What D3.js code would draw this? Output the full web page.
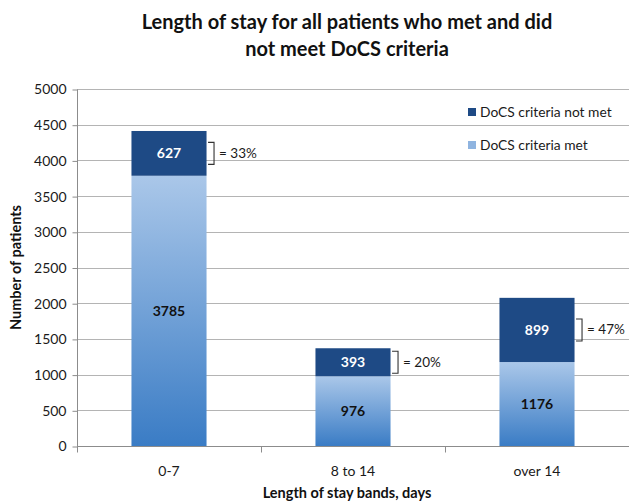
<!DOCTYPE html>
<html>
<head>
<meta charset="utf-8">
<script src="https://cdn.jsdelivr.net/npm/d3@7"></script>
<style>
  body { margin: 0; background: #fff; }
  svg { display: block; font-family: Lato, "Open Sans", sans-serif; }
</style>
</head>
<body>
<div id="chart"></div>
<script>
// Stacked bars: length of stay by band, DoCS criteria met / not met
(function () {
  "use strict";

  // Data
  const categories = ["0-7", "8 to 14", "over 14"];
  const metValues = [3785, 976, 1176];
  const notMetValues = [627, 393, 899];
  const percentLabels = ["= 33%", "= 20%", "= 47%"];
  const yTicks = [0, 500, 1000, 1500, 2000, 2500, 3000, 3500, 4000, 4500, 5000];
  const seriesNames = ["DoCS criteria not met", "DoCS criteria met"];

  const width = 629;
  const height = 501;
  const margin = { top: 89, right: 0, bottom: 52, left: 77 };

  const svg = d3
    .select("#chart")
    .append("svg")
    .attr("width", width)
    .attr("height", height);

  // Gradient for the "met" part of each bar
  const defs = svg.append("defs");
  const grad = defs
    .append("linearGradient")
    .attr("id", "metGrad")
    .attr("x1", 0).attr("y1", 0)
    .attr("x2", 0).attr("y2", 1);
  grad.append("stop").attr("offset", "0%").attr("stop-color", "#aac7e9");
  grad.append("stop").attr("offset", "100%").attr("stop-color", "#3a7cc5");

  const x = d3
    .scaleBand()
    .domain(categories)
    .range([margin.left, width - margin.right])
    .paddingInner(0.592)
    .paddingOuter(0.296);

  const y = d3
    .scaleLinear()
    .domain([0, 5000])
    .range([height - margin.bottom - 3, margin.top]);

  // Grid lines
  svg
    .append("g")
    .selectAll("line")
    .data(yTicks.filter((d) => d > 0))
    .join("line")
    .attr("x1", margin.left)
    .attr("x2", width)
    .attr("y1", (d) => Math.round(y(d)) + 0.5)
    .attr("y2", (d) => Math.round(y(d)) + 0.5)
    .attr("stroke", "#b4b4b4")
    .attr("stroke-width", 1.2);

  // Y axis
  const yAxis = svg
    .append("g")
    .attr("transform", `translate(${margin.left + 0.5},0.5)`)
    .call(d3.axisLeft(y).tickValues(yTicks).tickFormat(d3.format("d")).tickSize(5).tickPadding(6))
    .call((g) => g.select(".domain").attr("stroke", "#8c8c8c").attr("d", `M-0,${y(5000)}V${y(0)}`));
  yAxis.selectAll(".tick line").attr("stroke", "#8c8c8c");
  yAxis
    .selectAll(".tick text")
    .attr("font-family", "Lato, sans-serif")
    .attr("font-size", 14)
    .attr("fill", "#1a1a1a");

  // Bars: met (bottom) and not met (top)
  const bars = svg.append("g");
  bars
    .selectAll("rect.met")
    .data(categories)
    .join("rect")
    .attr("class", "met")
    .attr("x", (d) => x(d))
    .attr("width", x.bandwidth())
    .attr("y", (d, i) => y(metValues[i]))
    .attr("height", (d, i) => y(0) - y(metValues[i]))
    .attr("fill", "url(#metGrad)");

  bars
    .selectAll("rect.notmet")
    .data(categories)
    .join("rect")
    .attr("class", "notmet")
    .attr("x", (d) => x(d))
    .attr("width", x.bandwidth())
    .attr("y", (d, i) => y(metValues[i] + notMetValues[i]))
    .attr("height", (d, i) => y(metValues[i]) - y(metValues[i] + notMetValues[i]))
    .attr("fill", "#1e4a85");

  // X axis line and ticks
  const baseY = Math.round(y(0)) + 0.5;
  svg
    .append("line")
    .attr("x1", margin.left)
    .attr("x2", width)
    .attr("y1", baseY)
    .attr("y2", baseY)
    .attr("stroke", "#8c8c8c")
    .attr("stroke-width", 1.2);

  const bounds = [margin.left].concat(categories.map((d) => x(d) + x.bandwidth() + x.step() * x.paddingInner() / 2));
  svg
    .append("g")
    .selectAll("line")
    .data(bounds)
    .join("line")
    .attr("x1", (d) => Math.round(d) + 0.5)
    .attr("x2", (d) => Math.round(d) + 0.5)
    .attr("y1", baseY)
    .attr("y2", baseY + 6)
    .attr("stroke", "#8c8c8c");

  svg
    .append("g")
    .selectAll("text")
    .data(categories)
    .join("text")
    .attr("x", (d) => x(d) + x.bandwidth() / 2)
    .attr("y", 476)
    .attr("text-anchor", "middle")
    .attr("font-size", 14)
    .attr("fill", "#1a1a1a")
    .text((d) => d);

  // Value labels
  const labels = svg.append("g").attr("font-weight", "bold").attr("font-size", 14).attr("text-anchor", "middle");
  labels
    .selectAll("text.met")
    .data(categories)
    .join("text")
    .attr("x", (d) => x(d) + x.bandwidth() / 2)
    .attr("y", (d, i) => (y(0) + y(metValues[i])) / 2 + 5)
    .attr("fill", "#111")
    .text((d, i) => metValues[i]);
  labels
    .selectAll("text.notmet")
    .data(categories)
    .join("text")
    .attr("x", (d) => x(d) + x.bandwidth() / 2)
    .attr("y", (d, i) => (y(metValues[i]) + y(metValues[i] + notMetValues[i])) / 2 + 5)
    .attr("fill", "#fff")
    .text((d, i) => notMetValues[i]);

  // Brackets with percentages
  const brackets = svg.append("g");
  categories.forEach((c, i) => {
    const yc = (y(metValues[i]) + y(metValues[i] + notMetValues[i])) / 2;
    const bx = x(c) + x.bandwidth() + 7.5;
    brackets
      .append("path")
      .attr("d", `M${bx - 6},${yc - 11}H${bx}V${yc + 11}H${bx - 6}`)
      .attr("fill", "none")
      .attr("stroke", "#333")
      .attr("stroke-width", 1.1);
    brackets
      .append("text")
      .attr("x", bx + 5)
      .attr("y", yc + 4.5)
      .attr("font-size", 13.5)
      .attr("fill", "#1a1a1a")
      .text(percentLabels[i]);
  });

  // Legend
  const legendColors = ["#1e4a85", "#8fb4e0"];
  const legend = svg.append("g");
  seriesNames.forEach((name, i) => {
    const ly = 117 + i * 33;
    legend
      .append("rect")
      .attr("x", 468)
      .attr("y", ly - 9)
      .attr("width", 8)
      .attr("height", 8)
      .attr("fill", legendColors[i]);
    legend
      .append("text")
      .attr("x", 480)
      .attr("y", ly)
      .attr("font-size", 13.8)
      .attr("fill", "#1a1a1a")
      .text(name);
  });

  // Titles
  const title = svg
    .append("text")
    .attr("text-anchor", "middle")
    .attr("font-weight", "bold")
    .attr("font-size", 20)
    .attr("fill", "#111");
  title.append("tspan").attr("x", 347).attr("y", 29).text("Length of stay for all patients who met and did");
  title.append("tspan").attr("x", 347).attr("y", 56).text("not meet DoCS criteria");

  svg
    .append("text")
    .attr("x", 347)
    .attr("y", 498)
    .attr("text-anchor", "middle")
    .attr("font-weight", "bold")
    .attr("font-size", 14.5)
    .attr("fill", "#111")
    .text("Length of stay bands, days");

  svg
    .append("text")
    .attr("transform", `translate(21,${(y(0) + y(5000)) / 2}) rotate(-90)`)
    .attr("text-anchor", "middle")
    .attr("font-weight", "bold")
    .attr("font-size", 14.5)
    .attr("fill", "#111")
    .text("Number of patients");
})();
</script>
</body>
</html>
